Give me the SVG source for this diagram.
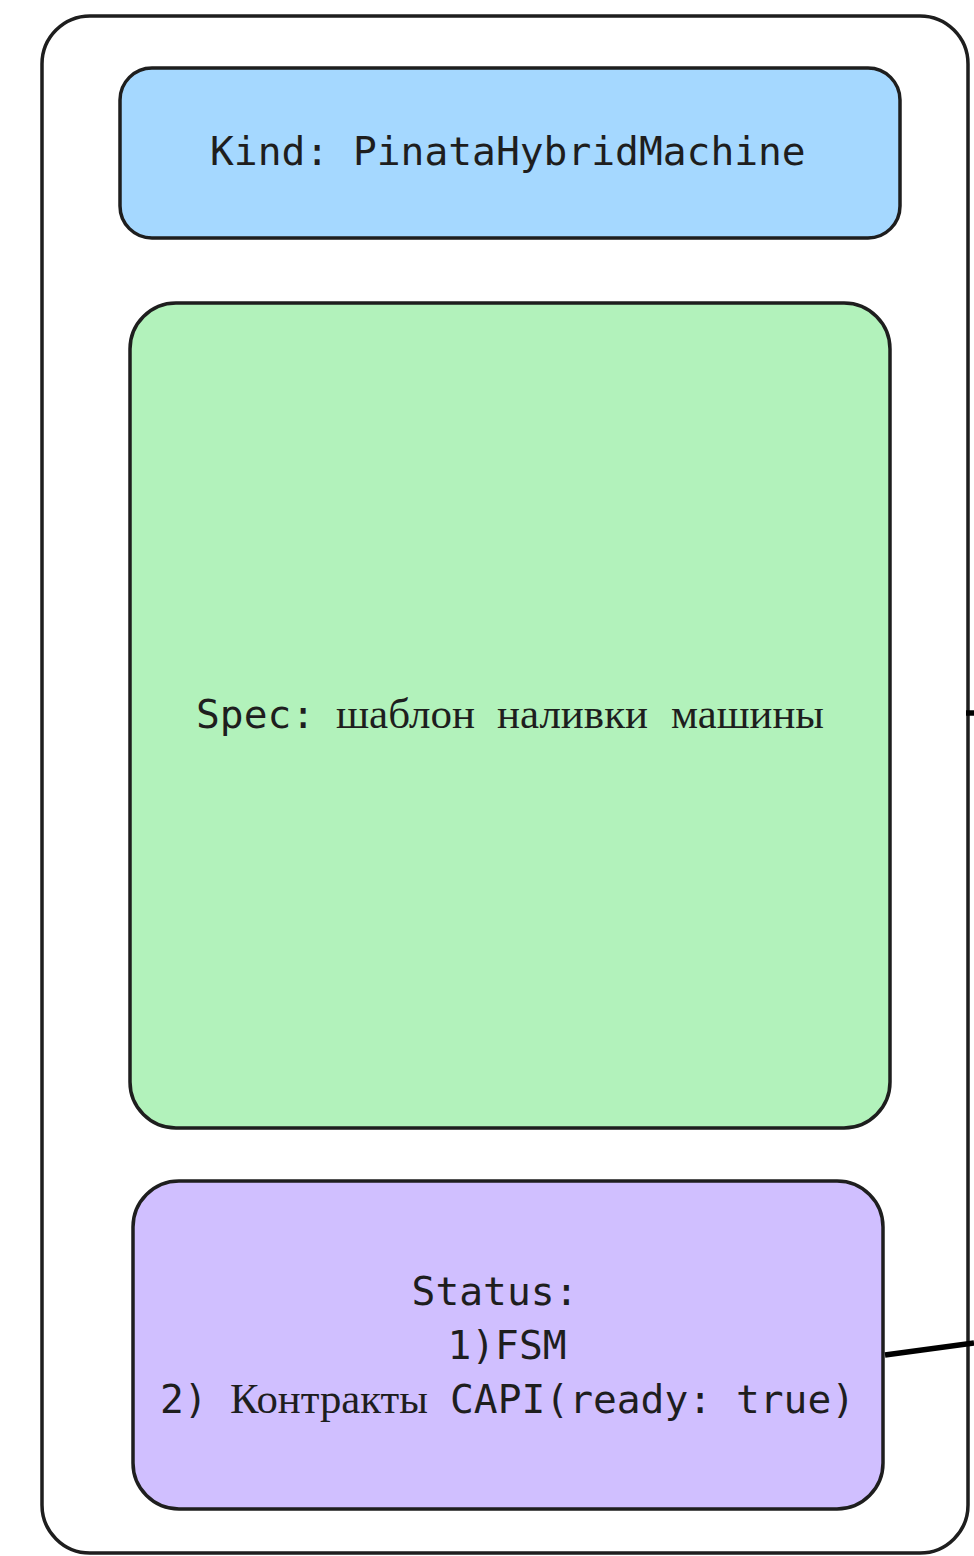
<svg xmlns="http://www.w3.org/2000/svg" width="974" height="1556" viewBox="0 0 974 1556">
  <style>
    .box { stroke: #1e1e1e; stroke-width: 3.5; }
    .mono { font-family: "DejaVu Sans Mono", "Liberation Mono", monospace; font-size: 39.6px; fill: #1e1e1e; }
    .cyr { font-family: "Liberation Serif", "DejaVu Serif", serif; font-size: 42px; }
    .link { stroke: #000; stroke-width: 5.5; stroke-linecap: butt; fill: none; }
  </style>
  <rect width="974" height="1556" fill="#ffffff"/>

  <!-- resource frame -->
  <g id="resource">
    <rect class="box" x="42" y="16" width="926" height="1537" rx="48" ry="48" fill="#ffffff"/>
  </g>

  <!-- kind -->
  <g id="kind">
    <rect class="box" x="120" y="68" width="780" height="170" rx="32" ry="32" fill="#a5d8ff"/>
    <text class="mono" x="210" y="165">Kind: PinataHybridMachine</text>
  </g>

  <!-- spec -->
  <g id="spec">
    <rect class="box" x="130" y="303" width="760" height="825" rx="46" ry="46" fill="#b2f2bb"/>
    <text class="mono" y="728"><tspan x="196">Spec:</tspan><tspan class="cyr" x="336" textLength="139" lengthAdjust="spacingAndGlyphs">шаблон</tspan><tspan class="cyr" x="497" textLength="151" lengthAdjust="spacingAndGlyphs">наливки</tspan><tspan class="cyr" x="671" textLength="153" lengthAdjust="spacingAndGlyphs">машины</tspan></text>
  </g>

  <!-- status -->
  <g id="status">
    <rect class="box" x="133" y="1181" width="750" height="328" rx="46" ry="46" fill="#d0bfff"/>
    <text class="mono" text-anchor="middle" x="495" y="1305">Status:</text>
    <text class="mono" text-anchor="middle" x="507" y="1359">1)FSM</text>
    <text class="mono" y="1413"><tspan x="160">2)</tspan><tspan class="cyr" x="230" textLength="198" lengthAdjust="spacingAndGlyphs">Контракты</tspan><tspan x="450">CAPI(ready: true)</tspan></text>
  </g>

  <!-- connectors -->
  <g id="connectors">
    <line class="link" x1="885" y1="1355" x2="974" y2="1343"/>
    <line class="link" x1="966" y1="713" x2="974" y2="713"/>
  </g>
</svg>
